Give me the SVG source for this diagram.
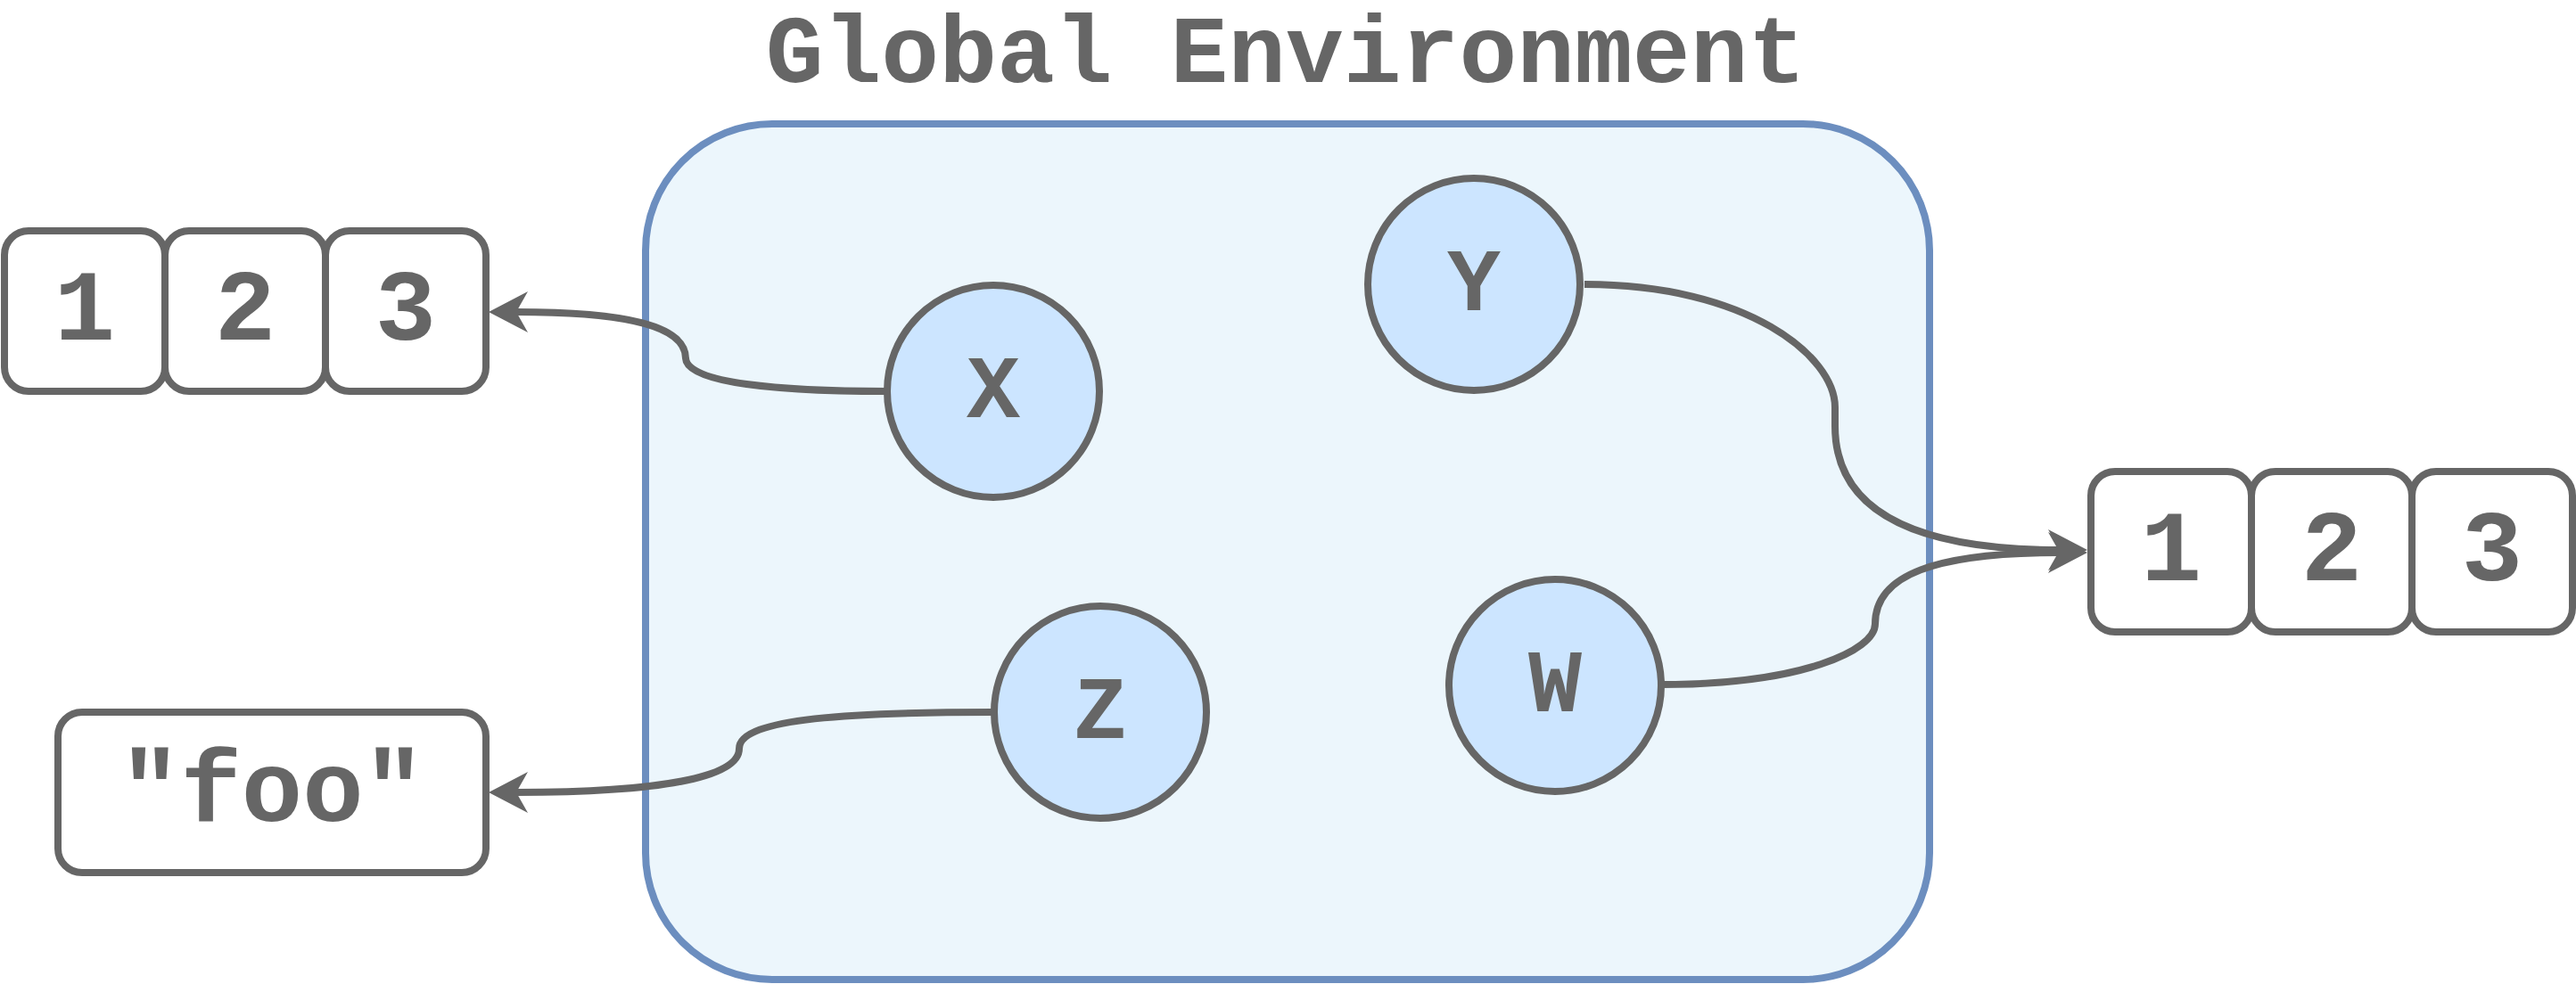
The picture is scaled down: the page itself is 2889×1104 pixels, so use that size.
<svg xmlns="http://www.w3.org/2000/svg" width="2889" height="1104" viewBox="0 0 2889 1104">
  <style>
    .env { fill: #ECF6FC; stroke: #6C8EBF; stroke-width: 8; }
    .var { fill: #CCE5FF; stroke: #666666; stroke-width: 8; }
    .cell { fill: #FFFFFF; stroke: #666666; stroke-width: 8; }
    .edge { fill: none; stroke: #666666; stroke-width: 8; }
    .t { font-family: "Liberation Mono", "Courier New", monospace; font-weight: bold; fill: #666666; text-anchor: middle; }
    .title { font-size: 108px; }
    .lbl { font-size: 100px; }
    .val { font-size: 114px; }
  </style>
  <defs>
    <marker id="arr" markerUnits="userSpaceOnUse" viewBox="0 0 44 46" markerWidth="44" markerHeight="46" refX="13" refY="23" orient="auto">
      <path d="M0,0 L44,23 L0,46 L13,23 Z" fill="#666666"/>
    </marker>
  </defs>

  <g id="global-environment">
    <rect class="env" x="724" y="139" width="1440" height="960" rx="142" ry="142"/>
    <text class="t title" x="1442" y="92">Global Environment</text>
  </g>

  <g id="connectors">
    <path class="edge" marker-end="url(#arr)" d="M995,439 C875,439 770,430 769,402 C769,365 700,350 579,350"/>
    <path class="edge" marker-end="url(#arr)" d="M1777,319 C1960,319 2058,400 2058,457 L2058,478 C2058,575 2150,617 2310,617"/>
    <path class="edge" marker-end="url(#arr)" d="M1863,768 C2020,768 2103,730 2103,700 C2103,645 2170,620 2310,620"/>
    <path class="edge" marker-end="url(#arr)" d="M1114,799 C960,799 829,805 829,840 C829,872 740,889 579,889"/>
  </g>

  <g id="var-x">
    <circle class="var" cx="1114" cy="439" r="119"/>
    <text class="t lbl" x="1114" y="468">X</text>
  </g>
  <g id="var-y">
    <circle class="var" cx="1653" cy="319" r="119"/>
    <text class="t lbl" x="1653" y="348">Y</text>
  </g>
  <g id="var-z">
    <circle class="var" cx="1234" cy="799" r="119"/>
    <text class="t lbl" x="1234" y="828">Z</text>
  </g>
  <g id="var-w">
    <circle class="var" cx="1744" cy="769" r="119"/>
    <text class="t lbl" x="1744" y="798">W</text>
  </g>

  <g id="array-left">
    <rect class="cell" x="5" y="259" width="180" height="180" rx="27" ry="27"/>
    <rect class="cell" x="185" y="259" width="180" height="180" rx="27" ry="27"/>
    <rect class="cell" x="365" y="259" width="180" height="180" rx="27" ry="27"/>
    <text class="t val" x="95" y="381">1</text>
    <text class="t val" x="275" y="381">2</text>
    <text class="t val" x="455" y="381">3</text>
  </g>

  <g id="string-foo">
    <rect class="cell" x="65" y="799" width="480" height="180" rx="27" ry="27"/>
    <text class="t val" x="305" y="921">"foo"</text>
  </g>

  <g id="array-right">
    <rect class="cell" x="2345" y="529" width="180" height="180" rx="27" ry="27"/>
    <rect class="cell" x="2525" y="529" width="180" height="180" rx="27" ry="27"/>
    <rect class="cell" x="2705" y="529" width="180" height="180" rx="27" ry="27"/>
    <text class="t val" x="2435" y="651">1</text>
    <text class="t val" x="2615" y="651">2</text>
    <text class="t val" x="2795" y="651">3</text>
  </g>
</svg>
